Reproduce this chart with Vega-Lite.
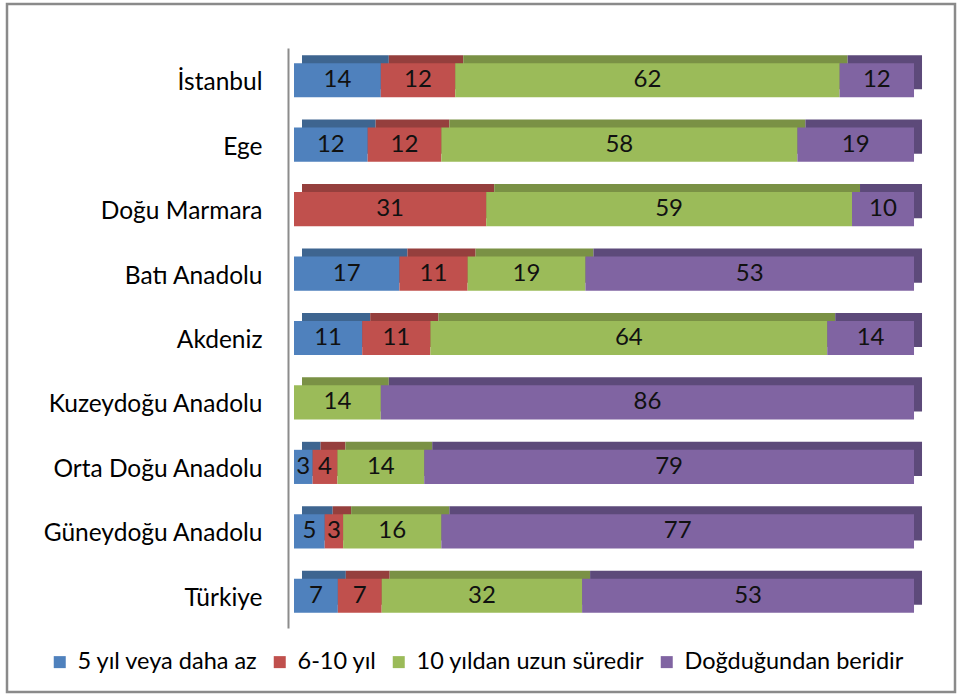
{
  "$schema": "https://vega.github.io/schema/vega-lite/v6.json",
  "width": 948,
  "height": 688,
  "autosize": "none",
  "padding": {"left": 7, "top": 4, "right": 5, "bottom": 6},
  "background": "white",
  "config": {
    "view": {"stroke": "#8a8a8a", "strokeWidth": 2.5},
    "font": "Lato",
    "text": {"font": "Lato"}
  },
  "data": {
    "values": [
      {"region": "İstanbul", "cat": "5 yıl veya daha az", "k": 1, "v": 14},
      {"region": "İstanbul", "cat": "6-10 yıl", "k": 2, "v": 12},
      {"region": "İstanbul", "cat": "10 yıldan uzun süredir", "k": 3, "v": 62},
      {"region": "İstanbul", "cat": "Doğduğundan beridir", "k": 4, "v": 12},
      {"region": "Ege", "cat": "5 yıl veya daha az", "k": 1, "v": 12},
      {"region": "Ege", "cat": "6-10 yıl", "k": 2, "v": 12},
      {"region": "Ege", "cat": "10 yıldan uzun süredir", "k": 3, "v": 58},
      {"region": "Ege", "cat": "Doğduğundan beridir", "k": 4, "v": 19},
      {"region": "Doğu Marmara", "cat": "6-10 yıl", "k": 2, "v": 31},
      {"region": "Doğu Marmara", "cat": "10 yıldan uzun süredir", "k": 3, "v": 59},
      {"region": "Doğu Marmara", "cat": "Doğduğundan beridir", "k": 4, "v": 10},
      {"region": "Batı Anadolu", "cat": "5 yıl veya daha az", "k": 1, "v": 17},
      {"region": "Batı Anadolu", "cat": "6-10 yıl", "k": 2, "v": 11},
      {"region": "Batı Anadolu", "cat": "10 yıldan uzun süredir", "k": 3, "v": 19},
      {"region": "Batı Anadolu", "cat": "Doğduğundan beridir", "k": 4, "v": 53},
      {"region": "Akdeniz", "cat": "5 yıl veya daha az", "k": 1, "v": 11},
      {"region": "Akdeniz", "cat": "6-10 yıl", "k": 2, "v": 11},
      {"region": "Akdeniz", "cat": "10 yıldan uzun süredir", "k": 3, "v": 64},
      {"region": "Akdeniz", "cat": "Doğduğundan beridir", "k": 4, "v": 14},
      {"region": "Kuzeydoğu Anadolu", "cat": "10 yıldan uzun süredir", "k": 3, "v": 14},
      {"region": "Kuzeydoğu Anadolu", "cat": "Doğduğundan beridir", "k": 4, "v": 86},
      {"region": "Orta Doğu Anadolu", "cat": "5 yıl veya daha az", "k": 1, "v": 3},
      {"region": "Orta Doğu Anadolu", "cat": "6-10 yıl", "k": 2, "v": 4},
      {"region": "Orta Doğu Anadolu", "cat": "10 yıldan uzun süredir", "k": 3, "v": 14},
      {"region": "Orta Doğu Anadolu", "cat": "Doğduğundan beridir", "k": 4, "v": 79},
      {"region": "Güneydoğu Anadolu", "cat": "5 yıl veya daha az", "k": 1, "v": 5},
      {"region": "Güneydoğu Anadolu", "cat": "6-10 yıl", "k": 2, "v": 3},
      {"region": "Güneydoğu Anadolu", "cat": "10 yıldan uzun süredir", "k": 3, "v": 16},
      {"region": "Güneydoğu Anadolu", "cat": "Doğduğundan beridir", "k": 4, "v": 77},
      {"region": "Türkiye", "cat": "5 yıl veya daha az", "k": 1, "v": 7},
      {"region": "Türkiye", "cat": "6-10 yıl", "k": 2, "v": 7},
      {"region": "Türkiye", "cat": "10 yıldan uzun süredir", "k": 3, "v": 32},
      {"region": "Türkiye", "cat": "Doğduğundan beridir", "k": 4, "v": 53}
    ]
  },
  "transform": [
    {"stack": "v", "groupby": ["region"], "sort": [{"field": "k", "order": "ascending"}], "offset": "normalize", "as": ["x0", "x1"]},
    {"calculate": "(datum.x0 + datum.x1) / 2", "as": "xm"}
  ],
  "encoding": {
    "y": {
      "field": "region",
      "type": "nominal",
      "sort": ["İstanbul", "Ege", "Doğu Marmara", "Batı Anadolu", "Akdeniz", "Kuzeydoğu Anadolu", "Orta Doğu Anadolu", "Güneydoğu Anadolu", "Türkiye"],
      "scale": {"paddingInner": 0.47, "paddingOuter": 0.235, "range": [44, 624]},
      "axis": {
        "title": null,
        "ticks": false,
        "domain": true,
        "domainColor": "#8c8c8c",
        "domainWidth": 2,
        "offset": -281,
        "labelPadding": 26,
        "labelOffset": 3,
        "labelFont": "Lato",
        "labelFontSize": 24.5,
        "labelLimit": 300,
        "labelColor": "#000000"
      }
    }
  },
  "layer": [
    {
      "mark": {"type": "bar", "xOffset": 8, "x2Offset": 8, "yOffset": -8, "y2Offset": -8},
      "encoding": {
        "x": {"field": "x0", "type": "quantitative", "scale": {"domain": [-0.4629, 1.0661], "nice": false, "zero": false}, "axis": null},
        "x2": {"field": "x1"},
        "color": {
          "field": "cat",
          "type": "nominal",
          "scale": {
            "domain": ["5 yıl veya daha az", "6-10 yıl", "10 yıldan uzun süredir", "Doğduğundan beridir"],
            "range": ["#3e6590", "#953f3d", "#7a9145", "#5d4a7a"]
          },
          "legend": null
        }
      }
    },
    {
      "mark": {"type": "bar"},
      "encoding": {
        "x": {"field": "x0", "type": "quantitative", "scale": {"domain": [-0.4629, 1.0661], "nice": false, "zero": false}, "axis": null},
        "x2": {"field": "x1"},
        "color": {
          "field": "cat",
          "type": "nominal",
          "scale": {
            "domain": ["5 yıl veya daha az", "6-10 yıl", "10 yıldan uzun süredir", "Doğduğundan beridir"],
            "range": ["#4f81bd", "#c0504d", "#9bbb59", "#8064a2"]
          },
          "legend": {
            "title": null,
            "orient": "none",
            "direction": "horizontal",
            "legendX": 41,
            "legendY": 646,
            "symbolType": "square",
            "symbolSize": 144,
            "symbolStrokeWidth": 0,
            "labelFont": "Lato",
            "labelFontSize": 23.5,
            "labelColor": "#000000",
            "labelOffset": 6,
            "columnPadding": 10,
            "labelLimit": 400
          }
        }
      }
    },
    {
      "mark": {"type": "text", "font": "Lato", "fontSize": 24, "color": "#111111", "align": "center", "baseline": "middle"},
      "encoding": {
        "x": {"field": "xm", "type": "quantitative", "scale": {"domain": [-0.4629, 1.0661], "nice": false, "zero": false}},
        "text": {"field": "v", "type": "quantitative"}
      }
    }
  ],
  "resolve": {"scale": {"color": "independent"}}
}
